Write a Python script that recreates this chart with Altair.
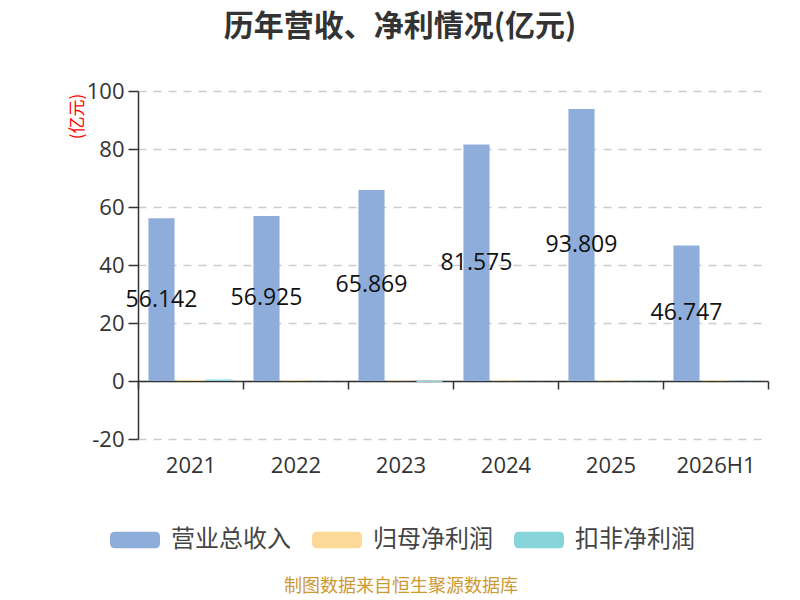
import altair as alt
import pandas as pd

years = ["2021", "2022", "2023", "2024", "2025", "2026H1"]
series = ["营业总收入", "归母净利润", "扣非净利润"]
revenue = [56.142, 56.925, 65.869, 81.575, 93.809, 46.747]
net_profit = [0.3, 0.25, 0.2, 0.2, 0.2, 0.25]
deducted_profit = [0.5, 0.02, -0.35, 0.03, 0.1, 0.15]
colors = ["#8EADDB", "#FDD999", "#86D3D8"]
source_text = "制图数据来自恒生聚源数据库"

rows = []
for i, y in enumerate(years):
    for s, vals in zip(series, [revenue, net_profit, deducted_profit]):
        rows.append({"year": y, "series": s, "value": vals[i]})
df = pd.DataFrame(rows)

FONT = "Noto Sans CJK SC"
NUMFONT = "Open Sans, Noto Sans CJK SC"
W, H = 630, 348
zero_off = H * 20 / 120

x_enc = alt.X("year:N", sort=years,
              scale=alt.Scale(paddingInner=0, paddingOuter=0),
              axis=alt.Axis(title=None, labelAngle=0, labelFontSize=22,
                            labelColor="#333333", labelFont=NUMFONT,
                            domainColor="#333333", domainWidth=1.5,
                            tickColor="#333333", tickWidth=1.5, tickSize=8,
                            tickBand="extent", offset=-zero_off,
                            labelPadding=zero_off + 8, grid=False))
xoff = alt.XOffset("series:N", sort=series,
                   scale=alt.Scale(paddingInner=0.1, paddingOuter=0.36))

bars = alt.Chart(df).mark_bar().encode(
    x=x_enc,
    xOffset=xoff,
    y=alt.Y("value:Q",
            scale=alt.Scale(domain=[-20, 100], nice=False),
            axis=alt.Axis(values=[-20, 0, 20, 40, 60, 80, 100],
                          labelExpr="toString(datum.value)",
                          title="(亿元)", titleColor="red", titleFontSize=17,
                          titleFont=FONT, titleFontWeight="normal",
                          titleX=-61, titleY=25, titleAngle=-90,
                          titleAlign="center", titleBaseline="middle",
                          labelFontSize=22, labelColor="#333333", labelFont=NUMFONT,
                          domainColor="#333333", domainWidth=1.5,
                          tickColor="#333333", tickWidth=1.5, tickSize=10,
                          labelPadding=4,
                          grid=True, gridColor="#CCCCCC", gridDash=[8, 7],
                          gridWidth=1.5)),
    color=alt.Color("series:N", sort=series,
                    scale=alt.Scale(domain=series, range=colors),
                    legend=alt.Legend(
                        title=None, orient="none", direction="horizontal",
                        columns=3, legendX=-28, legendY=424,
                        symbolType="M-0.8,-0.33 L0.8,-0.33 Q1,-0.33 1,-0.13 L1,0.13 Q1,0.33 0.8,0.33 L-0.8,0.33 Q-1,0.33 -1,0.13 L-1,-0.13 Q-1,-0.33 -0.8,-0.33 Z",
                        symbolSize=2500, symbolStrokeWidth=0, symbolOpacity=1,
                        labelFontSize=24, labelColor="#444444", labelFont=FONT,
                        labelFontWeight="normal",
                        labelOffset=11, columnPadding=21, labelLimit=300)),
)

labels = alt.Chart(df).transform_filter(
    alt.datum.series == "营业总收入"
).transform_calculate(
    mid="datum.value / 2",
    lab="format(datum.value, '.3f')"
).mark_text(fontSize=23, font=NUMFONT, color="#111111", baseline="middle").encode(
    x=alt.X("year:N", sort=years),
    xOffset=xoff,
    y=alt.Y("mid:Q"),
    text=alt.Text("lab:N"),
)

src = alt.Chart(pd.DataFrame({"t": [source_text]})).mark_text(
    fontSize=18, font=FONT, color="#CC9933", baseline="middle", align="center"
).encode(x=alt.value(263), y=alt.value(496), text=alt.Text("t:N"))

chart = alt.layer(bars, labels, src).properties(
    width=W, height=H,
    autosize=alt.AutoSizeParams(type="none"),
    padding={"left": 130, "top": 83, "right": 24, "bottom": 160},
    title=alt.TitleParams("历年营收、净利情况(亿元)", fontSize=30, font=FONT,
                          fontWeight="bold", color="#333333", dx=-53, offset=38),
).configure_view(stroke=None)

chart.save("out.html", embed_options={"renderer": "svg", "actions": False})
